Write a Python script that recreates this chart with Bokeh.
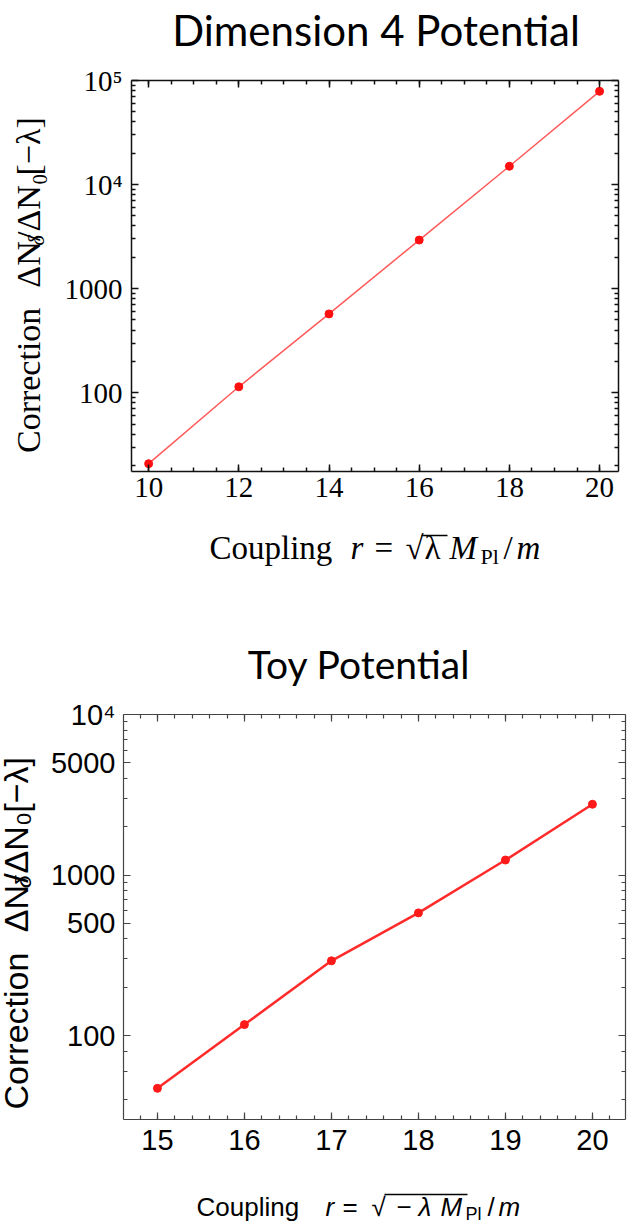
import math
from bokeh.plotting import figure
from bokeh.models import Range1d, LinearAxis, LogAxis, FixedTicker, CustomJSTickFormatter
from bokeh.core.properties import value
from bokeh.layouts import column, row
from bokeh.embed import file_html
from bokeh.resources import INLINE

# ---------------- data ----------------
d4_r = [10, 12, 14, 16, 18, 20]
d4_corr = [20.8, 114, 572, 2930, 15000, 78700]

toy_r = [15, 16, 17, 18, 19, 20]
toy_corr = [46.9, 117, 292, 581, 1240, 2760]

d4_xticks = [10, 12, 14, 16, 18, 20]
d4_yticks = [100, 1000, 10000, 100000]
d4_ytick_labels = ["100", "1000", "10\u2074", "10\u2075"]

toy_xticks = [15, 16, 17, 18, 19, 20]
toy_yticks = [100, 500, 1000, 5000, 10000]
toy_ytick_labels = ["100", "500", "1000", "5000", "10\u2074"]

d4_title = "Dimension 4 Potential"
toy_title = "Toy Potential"

SERIF = "Liberation Serif"
SANS = "Liberation Sans"
TITLE_FONT = "Lato"
A = math.pi / 2
SHIFT = 0.35   # renderer places alphabetic text ~0.35em below anchor; compensate
RSHIFT = 0.25  # rotated text drifts along its direction by ~0.25 of its length

# minor ticks
d4_xminor = [9.5 + 0.5 * i for i in range(23)]
d4_yminor = [m * 10 ** e for e in range(1, 5) for m in range(2, 10)]
toy_xminor = [14.6 + 0.2 * i for i in range(30)]
toy_yminor = [40, 60, 80, 200, 300, 400, 600, 700, 800, 900,
              2000, 3000, 4000, 6000, 7000, 8000, 9000]


def blank():
    return CustomJSTickFormatter(code="return ''")


def style_axis(ax, color, width, major_len, minor_len, font, size, standoff):
    ax.axis_line_color = color
    ax.axis_line_width = width
    ax.major_tick_line_color = color
    ax.minor_tick_line_color = color
    ax.major_tick_line_width = width
    ax.minor_tick_line_width = width
    ax.major_tick_in = major_len
    ax.major_tick_out = 0
    ax.minor_tick_in = minor_len
    ax.minor_tick_out = 0
    ax.major_label_text_font = font
    ax.major_label_text_font_size = f"{size}px"
    ax.major_label_text_color = "black"
    ax.major_label_standoff = standoff
    ax.axis_label = None


def text_fig(w, h):
    f = figure(width=w, height=h, x_range=Range1d(0, w), y_range=Range1d(h, 0),
               x_axis_type=None, y_axis_type=None, min_border=0,
               toolbar_location=None, output_backend="svg", title=None)
    f.grid.visible = False
    f.outline_line_color = None
    f.background_fill_color = "white"
    f.border_fill_color = "white"
    return f


def put(f, s, x, y, size, font, style="normal", angle=0.0, align="left", length=0.0):
    if angle:
        x = x - SHIFT * size
        y = y + RSHIFT * length
    else:
        y = y - SHIFT * size
    f.text(x=[x], y=[y], text=[s], text_font=value(font), text_font_size=value(f"{size}px"),
           text_font_style=style, text_color="black", angle=angle,
           text_align=align, text_baseline="alphabetic")


def make_chart(xr, yr, fw, fh, bl, br, bt, bb, xticks, xminor, yticks, yminor, ylabels,
               xs, ys, line_color, line_width, marker_color, axcolor, axwidth, font, fsize,
               xstand, ystand, mlen, nlen):
    p = figure(x_range=Range1d(*xr), y_range=Range1d(*yr), y_axis_type="log",
               frame_width=fw, frame_height=fh, min_border_left=bl, min_border_right=br,
               min_border_top=bt, min_border_bottom=bb, toolbar_location=None,
               output_backend="svg", title=None)
    p.grid.visible = False
    p.outline_line_color = None
    p.background_fill_color = "white"
    p.border_fill_color = "white"

    xa = p.xaxis[0]
    xa.ticker = FixedTicker(ticks=xticks, minor_ticks=xminor)
    style_axis(xa, axcolor, axwidth, mlen, nlen, font, fsize, xstand)

    ya = p.yaxis[0]
    ya.ticker = FixedTicker(ticks=yticks, minor_ticks=yminor)
    ya.major_label_overrides = dict(zip(yticks, ylabels))
    style_axis(ya, axcolor, axwidth, mlen, nlen, font, fsize, ystand)

    top = LinearAxis(ticker=FixedTicker(ticks=xticks, minor_ticks=xminor), formatter=blank())
    style_axis(top, axcolor, axwidth, mlen, nlen, font, 1, 0)
    p.add_layout(top, "above")
    right = LogAxis(ticker=FixedTicker(ticks=yticks, minor_ticks=yminor), formatter=blank())
    style_axis(right, axcolor, axwidth, mlen, nlen, font, 1, 0)
    p.add_layout(right, "right")

    p.line(xs, ys, line_color=line_color, line_width=line_width)
    p.scatter(xs, ys, size=8, fill_color=marker_color, line_color=marker_color)
    return p


# ================= top chart (page y 0..620) =================
c1 = make_chart((9.62, 20.42), (17.5, 1e5), 487, 391, 71, 12, 20, 50,
                d4_xticks, d4_xminor, d4_yticks, d4_yminor, d4_ytick_labels,
                d4_r, d4_corr, "#ff5a5a", 1.5, "#ff1010", "#111111", 1.5, SERIF, 29,
                6, 9, 7, 4)

t1 = text_fig(630, 60)
put(t1, d4_title, 375.5, 44, 42, TITLE_FONT, align="center")

y1 = text_fig(60, 461)   # page origin (0, 60); positions below are page y - 60
put(y1, "Correction", 40, 403, 34, SERIF, angle=A, length=145)
put(y1, "\u0394N", 40, 233, 34, SERIF, angle=A, length=45)
put(y1, "\u03b4", 44, 192, 23, SERIF, "italic", angle=A, length=11)
put(y1, "/\u0394N\u2080", 40, 173, 34, SERIF, angle=A, length=65)
put(y1, "[\u2212\u03bb]", 40, 97, 34, SERIF, angle=A, length=60)

x1 = text_fig(630, 99)   # page origin (0, 521)
put(x1, "Coupling", 209, 38, 33, SERIF)
put(x1, "r", 350, 38, 33, SERIF, "italic")
put(x1, "=", 374, 38, 33, SERIF)
put(x1, "\u221a", 405, 38, 33, SERIF)
put(x1, "\u03bb", 424, 38, 33, SERIF)
x1.segment(x0=[421], y0=[14], x1=[447], y1=[14], line_color="black", line_width=1.5)
put(x1, "M", 449, 38, 33, SERIF, "italic")
put(x1, "Pl", 480, 43, 22, SERIF)
put(x1, "/", 503, 38, 33, SERIF)
put(x1, "m", 516, 38, 33, SERIF, "italic")

block1 = column(t1, row(y1, c1, spacing=0), x1, spacing=0)

# ================= bottom chart (page y 620..1224) =================
c2 = make_chart((14.61, 20.38), (30, 1e4), 502, 405, 78, 5, 24, 45,
                toy_xticks, toy_xminor, toy_yticks, toy_yminor, toy_ytick_labels,
                toy_r, toy_corr, "#ff2a2a", 2.5, "#ff1a1a", "#444444", 1.2, SANS, 29,
                10, 8, 7, 4)

t2 = text_fig(630, 70)   # page origin (0, 620)
put(t2, toy_title, 358.5, 57, 39, TITLE_FONT, align="center")

y2 = text_fig(45, 474)   # page origin (0, 690); positions below are page y - 690
put(y2, "Correction", 27, 423, 34, SANS, angle=A, length=157)
put(y2, "\u0394N", 27, 243, 34, SANS, angle=A, length=47)
put(y2, "\u03b4", 31, 200, 23, SANS, "italic", angle=A, length=13)
put(y2, "/\u0394N\u2080", 27, 180, 34, SANS, angle=A, length=68)
put(y2, "[\u2212\u03bb]", 27, 101, 34, SANS, angle=A, length=56)

x2 = text_fig(630, 60)   # page origin (0, 1164)
put(x2, "Coupling", 196, 52, 26, SANS)
put(x2, "r", 325, 52, 26, SANS, "italic")
put(x2, "=", 342, 52, 26, SANS)
put(x2, "\u221a", 371, 52, 26, SANS)
x2.segment(x0=[384], y0=[30], x1=[467], y1=[30], line_color="black", line_width=1.3)
put(x2, "\u2212", 396, 52, 26, SANS)
put(x2, "\u03bb", 418, 52, 26, SANS, "italic")
put(x2, "M", 440, 52, 26, SANS, "italic")
put(x2, "Pl", 465, 56, 18, SANS)
put(x2, "/", 487, 52, 26, SANS)
put(x2, "m", 498, 52, 26, SANS, "italic")

block2 = column(t2, row(y2, c2, spacing=0), x2, spacing=0)

layout = column(block1, block2, spacing=0)
open("out.html", "w").write(file_html(layout, INLINE))
